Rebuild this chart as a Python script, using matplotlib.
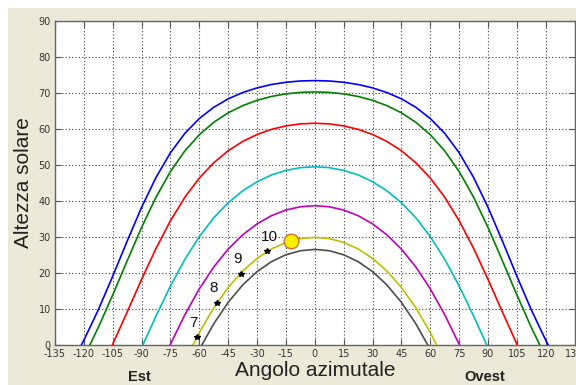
import numpy as np
import matplotlib
matplotlib.use("Agg")
import matplotlib.pyplot as plt
from matplotlib.patches import Rectangle

plt.rcParams['axes.unicode_minus'] = False

# half curves (azimuth >= 0), mirrored for the morning side
az_blue = [0, 7.5, 15, 22.5, 30, 37.5, 45, 52.5, 60, 67.5, 75, 82.5, 90, 97.5, 105, 112.5, 120, 121.3]
alt_blue = [73.45, 73.34, 72.98, 72.36, 71.42, 70.12, 68.38, 66.03, 62.92, 58.80, 53.41, 46.56, 38.25, 28.87, 19.13, 9.76, 1.34, 0]

az_green = [0, 7.5, 15, 22.5, 30, 37.5, 45, 52.5, 60, 67.5, 75, 82.5, 90, 97.5, 105, 112.5, 116.9]
alt_green = [70.30, 70.17, 69.75, 69.04, 67.97, 66.48, 64.50, 61.87, 58.41, 53.93, 48.19, 41.07, 32.66, 23.39, 13.91, 4.89, 0]

az_red = [0, 7.5, 15, 22.5, 30, 37.5, 45, 52.5, 60, 67.5, 75, 82.5, 90, 97.5, 105.2]
alt_red = [61.6, 61.42, 60.86, 59.90, 58.48, 56.53, 53.96, 50.63, 46.38, 41.06, 34.53, 26.85, 18.23, 9.17, 0]

az_cyan = [0, 7.5, 15, 22.5, 30, 37.5, 45, 52.5, 60, 67.5, 75, 82.5, 89.35]
alt_cyan = [49.5, 49.26, 48.51, 47.24, 45.36, 42.82, 39.53, 35.33, 30.12, 23.81, 16.40, 8.07, 0]

az_magenta = [0, 7.5, 15, 22.5, 30, 37.5, 45, 52.5, 60, 67.5, 75.2]
alt_magenta = [38.7, 38.40, 37.49, 35.93, 33.66, 30.59, 26.64, 21.68, 15.61, 8.42, 0]

az_yellow = [0, 7.5, 15, 22.5, 30, 37.5, 45, 52.5, 60, 63.3]
alt_yellow = [29.9, 29.55, 28.50, 26.69, 24.06, 20.53, 15.99, 10.32, 3.45, 0]

az_black = [0, 7.5, 15, 22.5, 30, 37.5, 45, 52.5, 58.7]
alt_black = [26.55, 26.19, 25.06, 23.16, 20.39, 16.66, 11.86, 5.89, 0]

# hour marks on the yellow path
ore = ['7', '8', '9', '10']
az_ore = [-61.1, -50.6, -38.6, -24.8]
alt_ore = [2.3, 11.8, 19.6, 26.2]
az_ore_txt = [-63.2, -52.5, -40.4, -23.6]
alt_ore_txt = [6.2, 15.7, 23.9, 29.9]

az_sole = -12.2
alt_sole = 29.0

x_ticks = list(range(-135, 136, 15))
y_ticks = list(range(0, 91, 10))


def full(az, alt):
    az = np.array(az)
    alt = np.array(alt)
    return np.concatenate([-az[::-1], az[1:]]), np.concatenate([alt[::-1], alt[1:]])


fig = plt.figure(figsize=(5.76, 3.85), dpi=100, facecolor='#ECE9D8')
# white strips on top and left edge
fig.patches.append(Rectangle((0, 1 - 8 / 385), 1, 8 / 385, transform=fig.transFigure,
                             facecolor='white', edgecolor='none', zorder=-1))
fig.patches.append(Rectangle((0, 0), 8 / 576, 1, transform=fig.transFigure,
                             facecolor='white', edgecolor='none', zorder=-1))

ax = fig.add_axes([55 / 576, 40 / 385, 519.6 / 576, 324 / 385])
ax.set_facecolor('white')

curves = [
    (az_blue, alt_blue, (0, 0, 1)),
    (az_green, alt_green, (0, 0.5, 0)),
    (az_red, alt_red, (1, 0, 0)),
    (az_cyan, alt_cyan, (0, 0.75, 0.75)),
    (az_magenta, alt_magenta, (0.75, 0, 0.75)),
    (az_yellow, alt_yellow, (0.75, 0.75, 0)),
    (az_black, alt_black, (0.3, 0.3, 0.3)),
]
for az, alt, col in curves:
    x, y = full(az, alt)
    ax.plot(x, y, color=col, lw=1.2, zorder=3)

ax.plot(az_ore, alt_ore, ls='none', marker='*', ms=4, color='black', zorder=4)
for t, xx, yy in zip(ore, az_ore_txt, alt_ore_txt):
    ax.text(xx, yy, t, fontsize=11, family='Liberation Sans', color='#111111',
            ha='center', va='center', zorder=5)
ax.plot([az_sole], [alt_sole], ls='none', marker='o', ms=10.5,
        markerfacecolor='#FFF000', markeredgecolor='#D07020', markeredgewidth=1, zorder=5)

ax.set_xlim(-135, 135)
ax.set_ylim(0, 90)
ax.set_xticks(x_ticks)
ax.set_yticks(y_ticks)
ax.grid(True, color='#404040', linestyle=(0, (1, 2)), linewidth=0.8)
ax.tick_params(direction='in', top=True, right=True, length=4, width=0.8,
               color='#555555', labelsize=7, labelcolor='#333333', pad=3)
for s in ax.spines.values():
    s.set_color('#666666')
    s.set_linewidth(1)

ax.set_ylabel('Altezza solare', fontsize=15, family='Liberation Sans', color='#222222', labelpad=4)
ax.set_xlabel('Angolo azimutale', fontsize=15, family='Liberation Sans', color='#222222', labelpad=1)
fig.text(139 / 576, 1 - 377 / 385, 'Est', fontsize=10.5, fontweight='bold',
         family='Liberation Sans', color='#222222', ha='center', va='center')
fig.text(485 / 576, 1 - 377 / 385, 'Ovest', fontsize=10.5, fontweight='bold',
         family='Liberation Sans', color='#222222', ha='center', va='center')

fig.savefig('out.png', dpi=100, facecolor=fig.get_facecolor())
